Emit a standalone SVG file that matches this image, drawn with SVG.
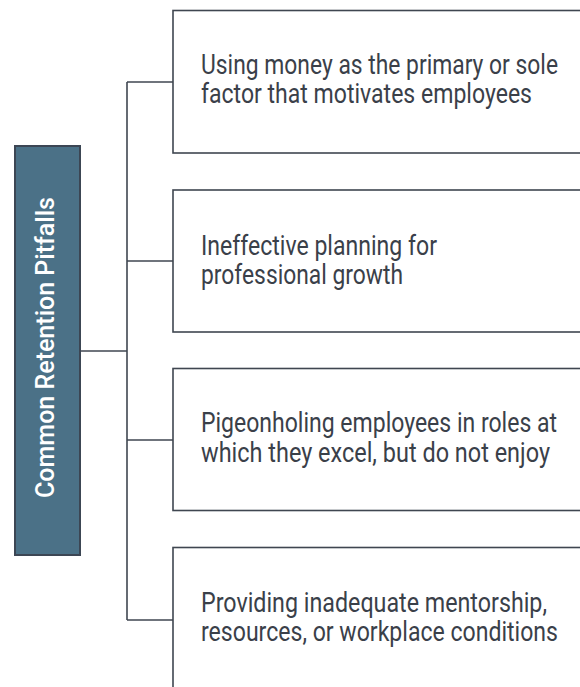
<svg xmlns="http://www.w3.org/2000/svg" width="580" height="687" viewBox="0 0 580 687">
  <style>
    .box { fill: #ffffff; stroke: #3f4650; stroke-width: 1.6; }
    .root { fill: #4b7187; stroke: #3c4654; stroke-width: 2; }
    .item { font-family: Roboto, "Liberation Sans", sans-serif; font-size: 23px; fill: #3a4049; }
    .title { font-family: Roboto, "Liberation Sans", sans-serif; font-size: 26px; font-weight: 500; fill: #ffffff; }
    .wire { fill: none; stroke: #3f4650; stroke-width: 1.6; }
  </style>
  <rect width="580" height="687" fill="#ffffff"/>

  <!-- connectors -->
  <g id="connectors">
    <path class="wire" d="M80,351 H127"/>
    <path class="wire" d="M127,82 V620"/>
    <path class="wire" d="M127,82 H173"/>
    <path class="wire" d="M127,261 H173"/>
    <path class="wire" d="M127,440 H173"/>
    <path class="wire" d="M127,620 H173"/>
  </g>

  <!-- root -->
  <g id="root">
    <rect class="root" x="15" y="146" width="65" height="409"/>
    <text class="title" transform="translate(54,347.5) rotate(-90)" text-anchor="middle" textLength="301" lengthAdjust="spacingAndGlyphs">Common Retention Pitfalls</text>
  </g>

  <!-- pitfalls: labels are stretched vertically for a tall, narrow face -->
  <g id="pitfall-1">
    <rect class="box" x="173" y="10.5" width="420" height="142.5"/>
    <text class="item" transform="translate(201,73.5) scale(1,1.2)" textLength="357" lengthAdjust="spacingAndGlyphs">Using money as the primary or sole</text>
    <text class="item" transform="translate(201,103) scale(1,1.2)" textLength="331" lengthAdjust="spacingAndGlyphs">factor that motivates employees</text>
  </g>
  <g id="pitfall-2">
    <rect class="box" x="173" y="190" width="420" height="142"/>
    <text class="item" transform="translate(201,254.5) scale(1,1.2)" textLength="236" lengthAdjust="spacingAndGlyphs">Ineffective planning for</text>
    <text class="item" transform="translate(201,284) scale(1,1.2)" textLength="202" lengthAdjust="spacingAndGlyphs">professional growth</text>
  </g>
  <g id="pitfall-3">
    <rect class="box" x="173" y="368.5" width="420" height="142"/>
    <text class="item" transform="translate(201,432) scale(1,1.2)" textLength="356" lengthAdjust="spacingAndGlyphs">Pigeonholing employees in roles at</text>
    <text class="item" transform="translate(201,461.5) scale(1,1.2)" textLength="349" lengthAdjust="spacingAndGlyphs">which they excel, but do not enjoy</text>
  </g>
  <g id="pitfall-4">
    <rect class="box" x="173" y="547.5" width="420" height="150"/>
    <text class="item" transform="translate(201,611.5) scale(1,1.2)" textLength="346" lengthAdjust="spacingAndGlyphs">Providing inadequate mentorship,</text>
    <text class="item" transform="translate(201,641) scale(1,1.2)" textLength="357" lengthAdjust="spacingAndGlyphs">resources, or workplace conditions</text>
  </g>
</svg>
